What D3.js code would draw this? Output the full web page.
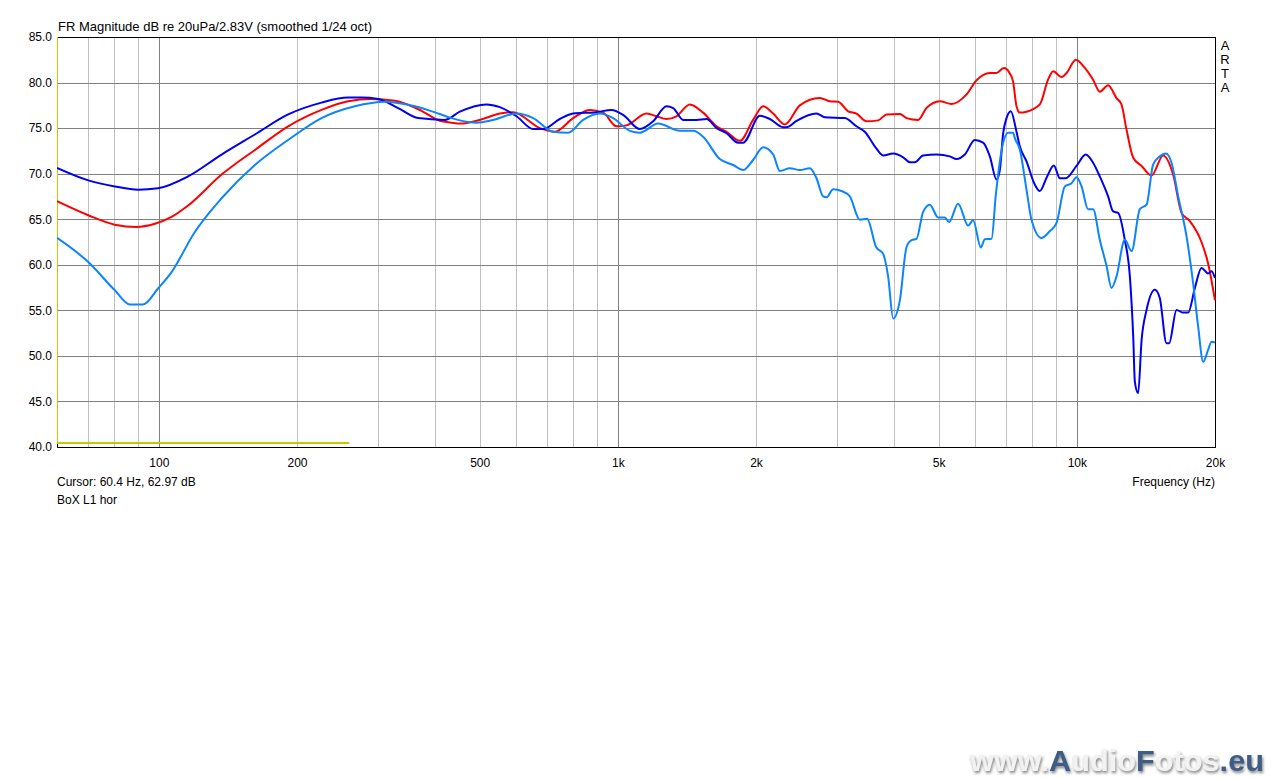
<!DOCTYPE html>
<html>
<head>
<meta charset="utf-8">
<script src="https://cdn.jsdelivr.net/npm/d3@7/dist/d3.min.js"></script>
<style>
  html, body { margin: 0; padding: 0; background: #ffffff; }
  svg { display: block; }
  text { font-family: "Liberation Sans", Arial, sans-serif; }
</style>
</head>
<body>
<svg id="chart" width="1271" height="778"></svg>
<script>
// ---------------- data ----------------
const titleText = "FR Magnitude dB re 20uPa/2.83V (smoothed 1/24 oct)";
const cursorText = "Cursor: 60.4 Hz, 62.97 dB";
const curveName = "BoX L1 hor";
const xAxisTitle = "Frequency (Hz)";
const brandLetters = ["A", "R", "T", "A"];

const yTicks = [40, 45, 50, 55, 60, 65, 70, 75, 80, 85];
const xTickValues = [100, 200, 500, 1000, 2000, 5000, 10000, 20000];
const xTickLabels = ["100", "200", "500", "1k", "2k", "5k", "10k", "20k"];
const majorGridHz = [100, 1000, 10000];
const minorGridHz = [70, 80, 90, 200, 300, 400, 500, 600, 700, 800, 900,
  2000, 3000, 4000, 5000, 6000, 7000, 8000, 9000];

// red trace
const redHz = [60,70.2,80.2,89.4,98,106.6,115.8,137,161.9,191.3,226.2,258.5,290.7,326.7,373.5,409.4,434.2,452.7,500,553.3,591.4,676.3,729,799.2,869,929,993.5,1044,1155,1214,1277,1342,1435,1534,1641,1725,1845,1971,2073,2180,2311,2492,2755,2896,3020,3175,3311,3482,3691,3849,4116,4256,4511,4704,5029,5333,5750,6047,6464,6683,6934,7145,7264,7389,7512,7769,8306,8660,8880,9262,9497,9950,10410,10850,11220,11700,12200,12510,12830,13270,13840,14550,15420,16210,16910,17630,18690,19320,20000];
const redDb = [66.98,65.44,64.4,64.15,64.5,65.25,66.5,69.9,72.6,75.2,77.0,77.95,78.2,78.0,76.9,75.8,75.6,75.5,75.9,76.6,76.75,75.0,74.6,76.1,77.0,76.7,75.2,75.3,76.6,76.3,76.0,76.3,77.6,76.7,75.2,74.6,73.6,75.9,77.4,76.6,75.4,77.5,78.3,77.95,77.9,76.85,76.6,75.75,75.85,76.5,76.55,76.1,75.9,77.2,77.95,77.65,78.7,80.25,81.05,81.05,81.6,81.0,80.1,77.4,76.7,76.8,77.6,80.35,81.25,80.6,81.05,82.5,81.6,80.3,79.0,79.7,78.3,77.6,74.85,71.75,70.85,69.8,72.0,69.9,65.7,64.8,62.5,60.15,56.1];

// dark blue trace
const darkHz = [60,70.2,80.2,90.1,99.6,115.8,137,161.9,191.3,226.2,258.5,276.4,300.5,332.2,367.2,419.9,452.7,517.5,553.3,601.6,654,687.6,747.5,799.2,898.7,969,1027,1117,1194,1277,1320,1388,1484,1561,1641,1725,1829,1875,2039,2144,2291,2331,2451,2709,2825,3123,3311,3452,3653,3784,3980,4184,4327,4437,4625,4946,5287,5468,5702,5995,6249,6464,6683,6796,6909,7028,7181,7389,7512,7769,8100,8306,8616,8911,9184,9462,9984,10460,10850,11220,11700,12000,12300,12720,13050,13270,13380,13600,13840,14190,14790,15160,15680,15890,16490,17050,17480,18080,18690,19320,19660,20000];
const darkDb = [70.63,69.26,68.6,68.24,68.4,69.7,72.1,74.3,76.5,77.8,78.35,78.35,78.2,77.2,76.1,75.9,76.8,77.6,77.3,76.3,74.9,74.9,76.0,76.6,76.75,77.0,76.45,74.9,75.75,77.4,77.2,75.9,75.9,76.0,75.0,74.45,73.4,73.4,76.35,76.0,75.1,75.1,75.8,76.6,76.2,76.1,75.2,74.6,72.8,72.0,72.2,71.8,71.25,71.25,72.0,72.1,71.9,71.6,72.1,73.7,73.4,71.9,69.35,70.4,74.4,76.1,76.85,74.6,73.0,71.35,68.8,68.1,69.7,70.9,69.5,69.5,70.85,72.1,71.2,69.7,67.5,65.85,65.7,62.75,58.7,52.1,47.15,45.9,51.75,55.05,57.25,56.35,51.4,51.4,55.05,54.75,54.75,57.45,59.65,59.05,59.3,58.55];

// light blue trace
const lightHz = [60,70.2,80.2,86.5,92.4,99.6,106.6,119.8,137,161.9,191.3,226.2,267.3,310.7,361.2,409.4,434.2,452.7,492.3,535,601.6,654,722.8,779.4,840.2,913.7,976.8,1062,1117,1224,1365,1459,1534,1668,1784,1875,1971,2073,2180,2254,2370,2492,2620,2709,2801,2849,2945,3072,3202,3367,3492,3653,3784,3881,3980,4116,4256,4364,4475,4625,4783,4986,5156,5269,5512,5797,5944,6177,6304,6520,6661,6909,7085,7264,7326,7512,7769,7966,8377,8734,9033,9417,9738,9984,10240,10580,10850,11220,11610,11900,12200,12720,13160,13720,14190,14660,15160,15630,16080,16630,17340,17920,18380,18850,19320,19660,20000];
const lightDb = [62.95,60.3,57.2,55.65,55.65,57.4,59.2,63.6,67.3,70.95,73.7,76.1,77.4,77.9,77.4,76.55,76.1,75.85,75.6,75.9,76.6,76.1,74.6,74.5,75.9,76.6,76.1,74.7,74.5,75.5,74.7,74.7,74.05,71.6,70.95,70.4,71.5,72.9,72.1,70.3,70.6,70.4,70.6,69.5,67.5,67.4,68.3,68.1,67.5,64.95,65.05,61.95,61.2,58.7,54.1,56.1,61.95,62.7,62.85,65.8,66.6,65.2,65.2,64.7,66.7,64.3,64.9,61.9,62.8,62.85,67.7,73.4,74.5,74.5,73.9,72.65,68.25,64.95,62.95,63.7,64.6,68.6,68.95,69.6,68.6,66.1,66.1,62.75,59.85,57.45,58.7,62.75,61.5,66.1,66.6,71.0,71.9,72.2,71.2,67.5,63.1,58.0,53.2,49.35,50.65,51.55,51.45];

// yellow trace (left edge + short low line)
const yellowHz = [60, 60, 260];
const yellowDb = [85, 40.45, 40.45];

// ---------------- drawing ----------------
const W = 1271, H = 778;
const L = 57, R = 1215, T = 37, B = 447;
const svg = d3.select("#chart");

const x = d3.scaleLog().domain([60, 20000]).range([L, R]);
const y = d3.scaleLinear().domain([40, 85]).range([B, T]);

const px = v => Math.round(v) + 0.5;

// minor vertical grid
const gMinor = svg.append("g").attr("transform", `translate(0,${T})`)
  .call(d3.axisBottom(x).tickValues(minorGridHz).tickSize(B - T).tickFormat(""));
gMinor.select(".domain").remove();
gMinor.selectAll(".tick line").attr("stroke", "#c0c0c0").attr("stroke-width", 1);
gMinor.selectAll(".tick").attr("transform", d => `translate(${px(x(d))},0)`);

// major vertical grid
const gMajor = svg.append("g").attr("transform", `translate(0,${T})`)
  .call(d3.axisBottom(x).tickValues(majorGridHz).tickSize(B - T).tickFormat(""));
gMajor.select(".domain").remove();
gMajor.selectAll(".tick line").attr("stroke", "#808080").attr("stroke-width", 1);
gMajor.selectAll(".tick").attr("transform", d => `translate(${px(x(d))},0)`);

// horizontal grid
const gH = svg.append("g").attr("transform", `translate(${L},0)`)
  .call(d3.axisRight(y).tickValues(yTicks).tickSize(R - L).tickFormat(""));
gH.select(".domain").remove();
gH.selectAll(".tick line").attr("stroke", "#808080").attr("stroke-width", 1);
gH.selectAll(".tick").attr("transform", d => `translate(0,${px(y(d))})`);

// frame
svg.append("rect")
  .attr("x", L + 0.5).attr("y", T + 0.5)
  .attr("width", R - L).attr("height", B - T)
  .attr("fill", "none").attr("stroke", "#000").attr("stroke-width", 1);

// y labels
const gY = svg.append("g").attr("transform", `translate(${L - 1},0)`)
  .call(d3.axisLeft(y).tickValues(yTicks).tickSize(0).tickPadding(4).tickFormat(d3.format(".1f")));
gY.select(".domain").remove();
gY.selectAll("text").attr("font-size", 12).attr("fill", "#000")
  .attr("font-family", '"Liberation Sans", Arial, sans-serif');

// x labels
const gX = svg.append("g").attr("transform", `translate(0,${B})`)
  .call(d3.axisBottom(x).tickValues(xTickValues).tickSize(0).tickPadding(11)
    .tickFormat((d, i) => xTickLabels[i]));
gX.select(".domain").remove();
gX.selectAll("text").attr("font-size", 12).attr("fill", "#000")
  .attr("font-family", '"Liberation Sans", Arial, sans-serif');

// traces
const zip = (hz, db) => hz.slice(0, Math.min(hz.length, db.length)).map((f, i) => [f, db[i]]);
const line = d3.line().x(d => x(d[0])).y(d => y(d[1])).curve(d3.curveMonotoneX);
const lineStraight = d3.line().x(d => x(d[0])).y(d => y(d[1]));

svg.append("clipPath").attr("id", "plotclip")
  .append("rect").attr("x", L).attr("y", T).attr("width", R - L + 1).attr("height", B - T + 1);

const gTr = svg.append("g").attr("clip-path", "url(#plotclip)");
gTr.append("path").datum(zip(yellowHz, yellowDb)).attr("d", lineStraight)
  .attr("fill", "none").attr("stroke", "#c8c800").attr("stroke-width", 2);
gTr.append("path").datum(zip(redHz, redDb)).attr("d", line)
  .attr("fill", "none").attr("stroke", "#ff0000").attr("stroke-width", 2).attr("stroke-linejoin", "round");
gTr.append("path").datum(zip(darkHz, darkDb)).attr("d", line)
  .attr("fill", "none").attr("stroke", "#0000f0").attr("stroke-width", 2).attr("stroke-linejoin", "round");
gTr.append("path").datum(zip(lightHz, lightDb)).attr("d", line)
  .attr("fill", "none").attr("stroke", "#0a84ff").attr("stroke-width", 2).attr("stroke-linejoin", "round");

// texts
svg.append("text").attr("x", 58).attr("y", 31).attr("font-size", 13)
  .attr("textLength", 314).attr("lengthAdjust", "spacingAndGlyphs")
  .attr("fill", "#000").text(titleText);
svg.append("text").attr("x", 57).attr("y", 486).attr("font-size", 12).attr("fill", "#000").text(cursorText);
svg.append("text").attr("x", 57).attr("y", 504).attr("font-size", 12).attr("fill", "#000").text(curveName);
svg.append("text").attr("x", R).attr("y", 486).attr("text-anchor", "end").attr("font-size", 12).attr("fill", "#000").text(xAxisTitle);
svg.append("g").selectAll("text").data(brandLetters).join("text")
  .attr("x", 1225).attr("y", (d, i) => 50 + i * 14).attr("text-anchor", "middle")
  .attr("font-size", 13).attr("fill", "#000").text(d => d);

// watermark
const defs = svg.append("defs");
const f = defs.append("filter").attr("id", "wmshadow").attr("x", "-10%").attr("y", "-30%").attr("width", "120%").attr("height", "160%");
f.append("feGaussianBlur").attr("in", "SourceAlpha").attr("stdDeviation", 1.6).attr("result", "b");
f.append("feOffset").attr("in", "b").attr("dx", 1).attr("dy", 1.5).attr("result", "o");
f.append("feFlood").attr("flood-color", "#707070").attr("flood-opacity", 0.9).attr("result", "c");
f.append("feComposite").attr("in", "c").attr("in2", "o").attr("operator", "in").attr("result", "s");
const m = f.append("feMerge");
m.append("feMergeNode").attr("in", "s");
m.append("feMergeNode").attr("in", "SourceGraphic");

const wmParts = [["www.", "#f2f2f2"], ["A", "#3e5d86"], ["udio", "#f2f2f2"], ["F", "#3e5d86"], ["otos", "#f2f2f2"], [".eu", "#3e5d86"]];
const wm = svg.append("text").attr("x", 970).attr("y", 771)
  .attr("font-family", '"DejaVu Sans", Verdana, sans-serif').attr("font-weight", "bold")
  .attr("font-size", 29).attr("textLength", 294).attr("lengthAdjust", "spacingAndGlyphs")
  .attr("filter", "url(#wmshadow)");
wm.selectAll("tspan").data(wmParts).join("tspan").attr("fill", d => d[1]).text(d => d[0]);
</script>
</body>
</html>
